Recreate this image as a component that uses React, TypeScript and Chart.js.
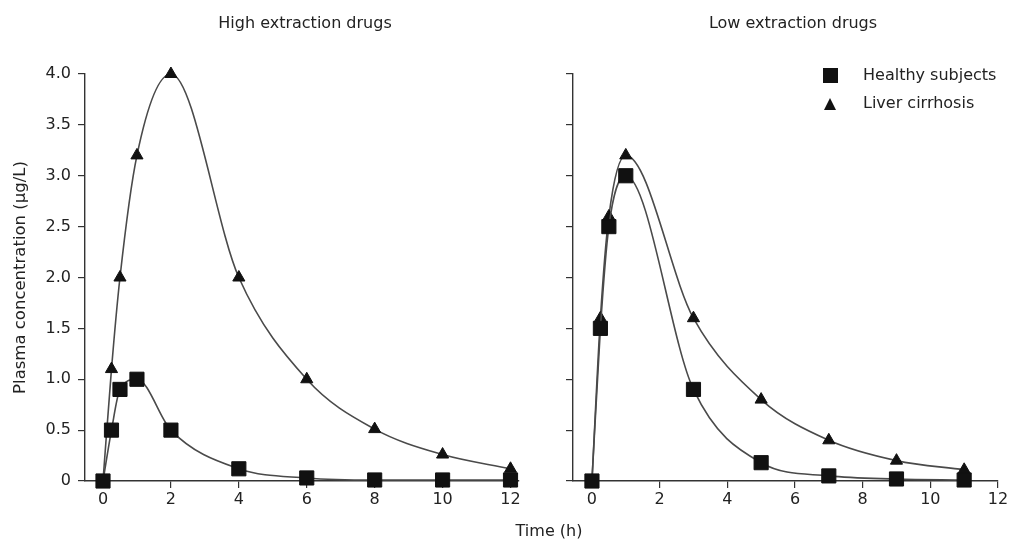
import React, { useEffect, useRef } from "react";
import { Chart, registerables } from "chart.js";

Chart.register(...registerables);

const FONT = "'DejaVu Sans', 'Liberation Sans', Arial, sans-serif";
const TEXT = "#222";
const LINE = "#4a4a4a";
const MARK = "#111";

const leftTimes = [0, 0.25, 0.5, 1, 2, 4, 6, 8, 10, 12];
const leftHealthy = [0, 0.5, 0.9, 1.0, 0.5, 0.12, 0.03, 0.01, 0.01, 0.01];
const leftCirrhosis = [0, 1.1, 2.0, 3.2, 4.0, 2.0, 1.0, 0.51, 0.26, 0.12];

const rightTimes = [0, 0.25, 0.5, 1, 3, 5, 7, 9, 11];
const rightHealthy = [0, 1.5, 2.5, 3.0, 0.9, 0.18, 0.05, 0.02, 0.01];
const rightCirrhosis = [0, 1.6, 2.6, 3.2, 1.6, 0.8, 0.4, 0.2, 0.11];

const xTicks = [0, 2, 4, 6, 8, 10, 12];
const yTicks = [0, 0.5, 1.0, 1.5, 2.0, 2.5, 3.0, 3.5, 4.0];

const seriesNames = ["Healthy subjects", "Liver cirrhosis"];

function pts(t: number[], v: number[]) {
  return t.map((x, i) => ({ x, y: v[i] }));
}

function makeConfig(
  times: number[],
  healthy: number[],
  cirrhosis: number[],
  opts: { xMin: number; xMax: number; yWidth: number; showY: boolean; padRight: number }
): any {
  return {
    type: "line",
    data: {
      datasets: [
        {
          label: seriesNames[0],
          data: pts(times, healthy),
          borderColor: LINE,
          borderWidth: 1.6,
          cubicInterpolationMode: "monotone",
          pointStyle: "rect",
          pointRadius: 10,
          pointBorderWidth: 1,
          pointBackgroundColor: MARK,
          pointBorderColor: MARK,
          clip: false,
        },
        {
          label: seriesNames[1],
          data: pts(times, cirrhosis),
          borderColor: LINE,
          borderWidth: 1.6,
          cubicInterpolationMode: "monotone",
          pointStyle: "triangle",
          pointRadius: 7,
          pointBorderWidth: 1,
          pointBackgroundColor: MARK,
          pointBorderColor: MARK,
          clip: false,
        },
      ],
    },
    options: {
      animation: false,
      responsive: false,
      maintainAspectRatio: false,
      layout: { padding: { left: 0, right: opts.padRight, top: 74, bottom: 25 } },
      plugins: { legend: { display: false }, tooltip: { enabled: false }, title: { display: false } },
      scales: {
        x: {
          type: "linear",
          min: opts.xMin,
          max: opts.xMax,
          afterBuildTicks: (s: any) => {
            s.ticks = xTicks.map((v) => ({ value: v }));
          },
          afterFit: (s: any) => {
            s.height = 40;
          },
          grid: { drawOnChartArea: false, drawTicks: true, tickLength: 7, color: "#333", lineWidth: 1.2 },
          border: { display: true, color: "#333", width: 1.4 },
          ticks: { color: TEXT, font: { family: FONT, size: 16 }, padding: 2, maxRotation: 0 },
        },
        y: {
          type: "linear",
          min: 0,
          max: 4,
          afterBuildTicks: (s: any) => {
            s.ticks = yTicks.map((v) => ({ value: v }));
          },
          afterFit: (s: any) => {
            s.width = opts.yWidth;
          },
          grid: { drawOnChartArea: false, drawTicks: true, tickLength: 7, color: "#333", lineWidth: 1.2 },
          border: { display: true, color: "#333", width: 1.4 },
          ticks: {
            color: TEXT,
            font: { family: FONT, size: 16 },
            padding: 7,
            callback: (v: any) => (opts.showY ? (v === 0 ? "0" : Number(v).toFixed(1)) : ""),
          },
          title: {
            display: opts.showY,
            text: "Plasma concentration (µg/L)",
            color: TEXT,
            font: { family: FONT, size: 16.5 },
            padding: { top: 11, bottom: 0 },
          },
        },
      },
    },
  };
}

function ChartCanvas({ config, left, width }: { config: any; left: number; width: number }) {
  const ref = useRef<HTMLCanvasElement | null>(null);
  useEffect(() => {
    if (!ref.current) return;
    const chart = new Chart(ref.current, config);
    return () => chart.destroy();
  }, []);
  return (
    <canvas
      ref={ref}
      width={width}
      height={546}
      style={{ position: "absolute", left, top: 0, width, height: 546 }}
    />
  );
}

const textStyle: React.CSSProperties = {
  position: "absolute",
  fontFamily: FONT,
  fontSize: 16,
  lineHeight: "16px",
  color: TEXT,
  whiteSpace: "nowrap",
};

export default function App() {
  const leftCfg = makeConfig(leftTimes, leftHealthy, leftCirrhosis, {
    xMin: -0.53,
    xMax: 12.25,
    yWidth: 85,
    showY: true,
    padRight: 10,
  });
  const rightCfg = makeConfig(rightTimes, rightHealthy, rightCirrhosis, {
    xMin: -0.56,
    xMax: 12,
    yWidth: 43,
    showY: false,
    padRight: 14,
  });
  return (
    <div style={{ position: "fixed", left: 0, top: 0, width: 1012, height: 546, background: "#fff", overflow: "hidden" }}>
      <ChartCanvas config={leftCfg} left={0} width={530} />
      <ChartCanvas config={rightCfg} left={530} width={482} />
      <div style={{ ...textStyle, left: 305, top: 15, transform: "translateX(-50%)" }}>High extraction drugs</div>
      <div style={{ ...textStyle, left: 793, top: 15, transform: "translateX(-50%)" }}>Low extraction drugs</div>
      <div style={{ ...textStyle, left: 549, top: 523, transform: "translateX(-50%)" }}>Time (h)</div>
      <div style={{ position: "absolute", left: 823, top: 68, width: 15, height: 15, background: MARK }} />
      <div style={{ ...textStyle, left: 863, top: 67 }}>{seriesNames[0]}</div>
      <div
        style={{
          position: "absolute",
          left: 824,
          top: 98,
          width: 0,
          height: 0,
          borderLeft: "6.5px solid transparent",
          borderRight: "6.5px solid transparent",
          borderBottom: "12px solid " + MARK,
        }}
      />
      <div style={{ ...textStyle, left: 863, top: 95 }}>{seriesNames[1]}</div>
    </div>
  );
}
